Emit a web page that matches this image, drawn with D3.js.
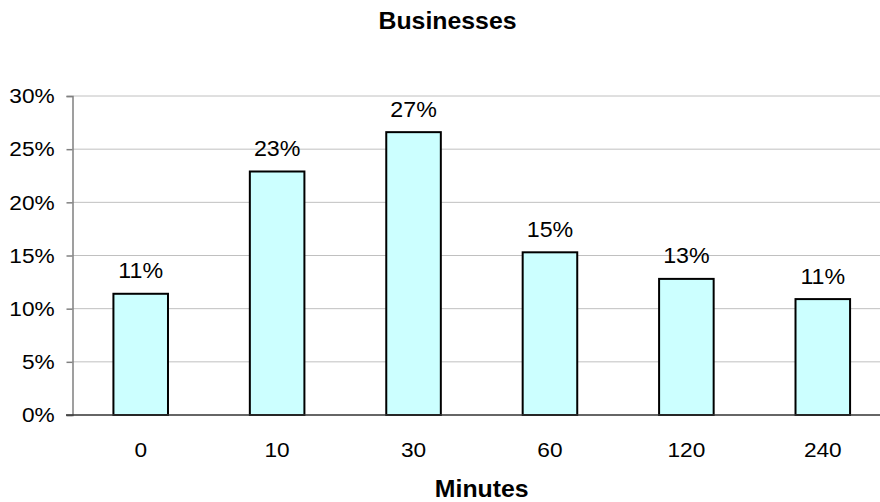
<!DOCTYPE html>
<html><head><meta charset="utf-8">
<script src="https://cdn.jsdelivr.net/npm/d3@7"></script>
<style>body{margin:0;background:#fff;}svg{display:block;font-family:"Liberation Sans",Arial,sans-serif;}</style>
</head><body>
<script>
const categories = ["0","10","30","60","120","240"];
const values = [0.114, 0.229, 0.266, 0.153, 0.128, 0.109];
const labels = ["11%","23%","27%","15%","13%","11%"];
const yTicks = [0,0.05,0.10,0.15,0.20,0.25,0.30];
const title = "Businesses";
const xTitle = "Minutes";

const W=880,H=502,SX=1.08;
const svg=d3.select("body").append("svg").attr("width",W).attr("height",H);
const m={l:72.5,r:891,t:96,b:415};
const x=d3.scaleBand().domain(categories).range([m.l,m.r]).paddingInner(0.6).paddingOuter(0.3);
const y=d3.scaleLinear().domain([0,0.30]).range([m.b,m.t]);

// gridlines
svg.append("g").selectAll("line").data(yTicks.slice(1)).join("line")
 .attr("x1",m.l).attr("x2",m.r).attr("y1",d=>y(d)).attr("y2",d=>y(d))
 .attr("stroke","#c0c0c0").attr("stroke-width",1);

// y axis
const ya=svg.append("g").attr("transform",`translate(${m.l},0)`)
 .call(d3.axisLeft(y).tickValues(yTicks).tickFormat(d3.format(".0%")).tickSize(6).tickPadding(10.5));
ya.select(".domain").attr("stroke","#808080").attr("stroke-width",1.5);
ya.selectAll(".tick line").attr("stroke","#808080").attr("stroke-width",1.5);
ya.selectAll("text").attr("font-size",21).attr("fill","#000").attr("transform",`scale(${SX},1)`)
  .style("font-family","Liberation Sans, Arial, sans-serif");

// bars
svg.append("g").selectAll("rect").data(values).join("rect")
 .attr("x",(d,i)=>x(categories[i])).attr("width",x.bandwidth())
 .attr("y",d=>y(d)).attr("height",d=>y(0)-y(d))
 .attr("fill","#ccffff").attr("stroke","#000").attr("stroke-width",2);

// x axis line
svg.append("line").attr("x1",66).attr("x2",m.r).attr("y1",y(0)).attr("y2",y(0))
 .attr("stroke","#333").attr("stroke-width",1.5);

// x tick labels
const xa=svg.append("g").attr("transform",`translate(0,${m.b})`)
 .call(d3.axisBottom(x).tickSize(0).tickPadding(27));
xa.select(".domain").remove();
xa.selectAll("text").attr("font-size",21).attr("fill","#000").attr("transform",`scale(${SX},1)`)
  .style("font-family","Liberation Sans, Arial, sans-serif");

// value labels
svg.append("g").selectAll("text").data(values).join("text")
 .attr("transform",(d,i)=>`translate(${x(categories[i])+x.bandwidth()/2},${y(d)-15.5}) scale(${SX},1)`)
 .attr("text-anchor","middle").attr("font-size",21.5).text((d,i)=>labels[i]);

svg.append("text").attr("transform",`translate(447.5,29) scale(${SX},1)`).attr("text-anchor","middle")
 .attr("font-size",23).attr("font-weight","bold").text(title);
svg.append("text").attr("transform",`translate(${(m.l+m.r)/2},497) scale(${SX},1)`).attr("text-anchor","middle")
 .attr("font-size",23).attr("font-weight","bold").text(xTitle);
</script>
</body></html>
